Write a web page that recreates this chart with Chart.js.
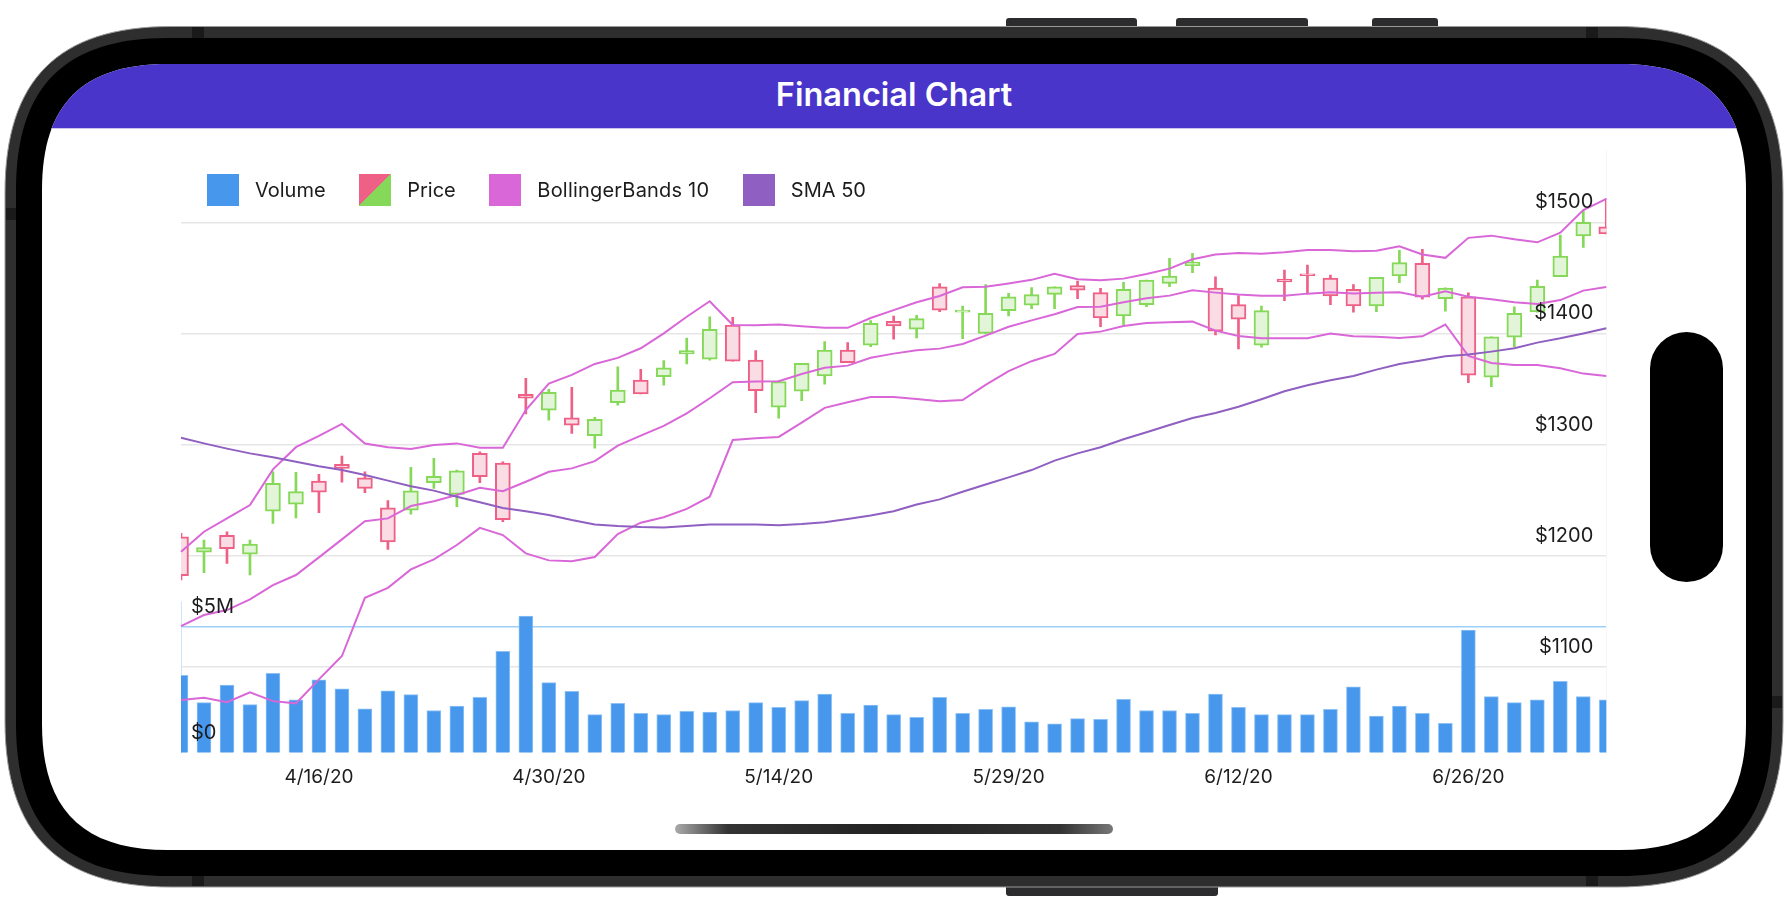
<!DOCTYPE html>
<html>
<head>
<meta charset="utf-8">
<title>Financial Chart</title>
<script src="https://cdn.jsdelivr.net/npm/chart.js@4"></script>
<style>
  html, body { margin: 0; width: 1788px; height: 910px; background: #fff; overflow: hidden; font-family: Inter, "Noto Sans", sans-serif; }
  div, svg { position: absolute; box-sizing: border-box; }
  .button { background: #2c2c2e; border-radius: 3px; }
  .band { background: #1a1a1a; }
  #device { left: 0; top: 0; }
  #title { left: 42px; top: 64px; width: 1704px; height: 64px; color: #fff; font-size: 32.5px; font-weight: 600; line-height: 62px; text-align: center; }
  #island { left: 1650px; top: 332px; width: 73px; height: 250px; background: #000; border-radius: 37px; }
  #home { left: 675px; top: 824px; width: 438px; height: 10px; border-radius: 5px; background: linear-gradient(90deg, #aaa, #333 12%, #222 50%, #333 88%, #777); }
  #chart-box { left: 170px; top: 130px; width: 1450px; height: 680px; }
  #legend { left: 207px; top: 174px; display: flex; gap: 33.6px; }
  #legend span.item { display: flex; align-items: center; gap: 16px; font-size: 20px; color: #1c1c1e; height: 32px; }
  #legend span.item:nth-child(3) { letter-spacing: 0.2px; }
  #legend span.swatch { display: block; width: 32px; height: 32px; }
</style>
</head>
<body>
<div class="button" style="left:1006px;top:18px;width:131px;height:12px"></div>
<div class="button" style="left:1176px;top:18px;width:132px;height:12px"></div>
<div class="button" style="left:1372px;top:18px;width:66px;height:12px"></div>
<div class="button" style="left:1006px;top:884px;width:212px;height:12px"></div>
<svg id="device" width="1788" height="910">
  <defs><clipPath id="screen-clip"><path id="screen-shape"></path></clipPath></defs>
  <path id="bezel" fill="#2e2e2e" stroke="#9a9a9a" stroke-width="1"></path>
  <path id="frame" fill="#000"></path>
  <path id="screen" fill="#fff"></path>
  <g clip-path="url(#screen-clip)">
    <rect x="42" y="64" width="1704" height="64" fill="#4935ca"></rect>
    <rect x="42" y="128" width="1704" height="1" fill="#c9c5ee"></rect>
  </g>
</svg>
<div class="band" style="left:192px;top:27px;width:12px;height:11px"></div>
<div class="band" style="left:1586px;top:27px;width:12px;height:11px"></div>
<div class="band" style="left:192px;top:876px;width:12px;height:10px"></div>
<div class="band" style="left:1586px;top:876px;width:12px;height:10px"></div>
<div class="band" style="left:6px;top:208px;width:10px;height:12px"></div>
<div class="band" style="left:1772px;top:696px;width:10px;height:12px"></div>
<div id="title">Financial Chart</div>
<div id="island"></div>
<div id="home"></div>
<div id="chart-box"><canvas id="financial-chart" width="1450" height="680"></canvas></div>
<div id="legend"></div>

<script>
// trading days on the x axis
const dateLabels = [
  "4/7/20", "4/8/20", "4/9/20", "4/13/20", "4/14/20", "4/15/20", "4/16/20", "4/17/20", "4/20/20", "4/21/20",
  "4/22/20", "4/23/20", "4/24/20", "4/27/20", "4/28/20", "4/29/20", "4/30/20", "5/1/20", "5/4/20", "5/5/20",
  "5/6/20", "5/7/20", "5/8/20", "5/11/20", "5/12/20", "5/13/20", "5/14/20", "5/15/20", "5/18/20", "5/19/20",
  "5/20/20", "5/21/20", "5/22/20", "5/26/20", "5/27/20", "5/28/20", "5/29/20", "6/1/20", "6/2/20", "6/3/20",
  "6/4/20", "6/5/20", "6/8/20", "6/9/20", "6/10/20", "6/11/20", "6/12/20", "6/15/20", "6/16/20", "6/17/20",
  "6/18/20", "6/19/20", "6/22/20", "6/23/20", "6/24/20", "6/25/20", "6/26/20", "6/29/20", "6/30/20", "7/1/20",
  "7/2/20", "7/6/20", "7/7/20",
];
const dateTicks = ["4/16/20", "4/30/20", "5/14/20", "5/29/20", "6/12/20", "6/26/20"];
const priceTicks = [1100, 1200, 1300, 1400, 1500];
const volumeTicks = [0, 5000000];

// candles
const openValues = [
  1217, 1203, 1218.3, 1201.2, 1239.9, 1246.4, 1267.1, 1282.1, 1270, 1242.9,
  1241, 1265.6, 1255.1, 1292, 1283.3, 1345.2, 1331, 1323.9, 1308, 1337.7,
  1358, 1361, 1381.5, 1376.7, 1407.6, 1376, 1333.5, 1347.9, 1361.7, 1385,
  1389.3, 1410.9, 1403.7, 1442, 1419.1, 1400, 1420.5, 1425.3, 1435.2, 1443,
  1436.7, 1415.7, 1425.9, 1445, 1461, 1440.9, 1425.9, 1389.3, 1449, 1453.7,
  1449.9, 1439.7, 1424.7, 1451.7, 1463, 1431.3, 1433, 1360.5, 1396.5, 1419.3,
  1451, 1487.7, 1496,
];
const closeValues = [
  1182, 1207.2, 1206.2, 1210.4, 1265, 1257.6, 1257.2, 1278.5, 1260.5, 1212.3,
  1258.4, 1271.4, 1276.4, 1271, 1232.3, 1341.6, 1347, 1317.3, 1322.7, 1349,
  1345.5, 1368.9, 1384.5, 1403.7, 1374.9, 1348.5, 1356.6, 1373, 1385, 1373.7,
  1409, 1406.7, 1413.3, 1421, 1420.9, 1418, 1433, 1434.9, 1442, 1439,
  1413.9, 1439.7, 1448, 1451.7, 1464.3, 1401.9, 1412.7, 1420.5, 1446.3, 1451.9,
  1433.7, 1424.7, 1450.5, 1463.7, 1432.5, 1440.9, 1362.3, 1397, 1418, 1442.4,
  1469.7, 1500, 1489.5,
];
const highValues = [
  1220, 1214, 1221.5, 1214, 1275.5, 1275, 1273.1, 1289.6, 1275.5, 1249.5,
  1279.4, 1287.5, 1277, 1293.5, 1284.5, 1359.6, 1349.7, 1351.5, 1324.5, 1370,
  1367.7, 1375.5, 1395.9, 1415, 1414.5, 1384.5, 1357.5, 1373, 1392.6, 1391.7,
  1411.5, 1415.7, 1416.3, 1444.8, 1424.7, 1443.9, 1436, 1441.2, 1442, 1447,
  1440.6, 1446, 1448, 1467.6, 1472, 1451, 1434, 1424.7, 1457, 1461.6,
  1452.6, 1444, 1450.5, 1474.8, 1475.7, 1441, 1436.5, 1397, 1424, 1448,
  1488.6, 1510.5, 1521.6,
];
const lowValues = [
  1178, 1184.6, 1193, 1182.5, 1229, 1234, 1238.7, 1266, 1256.7, 1205.6,
  1237.4, 1260.5, 1244, 1265.7, 1230.5, 1327.5, 1322, 1310, 1296.6, 1335.3,
  1345.5, 1353.3, 1372.5, 1376, 1374.9, 1328.7, 1323.6, 1339.5, 1354.2, 1373.7,
  1388, 1394.7, 1395.9, 1419.6, 1395.3, 1399.5, 1415.7, 1422.3, 1422.3, 1431.3,
  1406, 1407.3, 1424, 1442, 1454.7, 1398.6, 1386, 1387.5, 1429.5, 1435.5,
  1425.9, 1419, 1419.6, 1445.7, 1430.7, 1420, 1355.7, 1352, 1388, 1419,
  1451, 1477.5, 1489.5,
];
const volumeValues = [
  3080000, 2000000, 2690000, 1920000, 3160000, 2110000, 2900000, 2550000, 1760000, 2470000,
  2320000, 1690000, 1870000, 2210000, 4030000, 5420000, 2790000, 2450000, 1530000, 1970000,
  1580000, 1530000, 1660000, 1630000, 1690000, 2000000, 1820000, 2080000, 2340000, 1580000,
  1900000, 1530000, 1420000, 2210000, 1580000, 1740000, 1840000, 1240000, 1160000, 1370000,
  1340000, 2130000, 1690000, 1690000, 1580000, 2340000, 1820000, 1530000, 1530000, 1530000,
  1740000, 2630000, 1470000, 1870000, 1580000, 1180000, 4870000, 2240000, 2000000, 2110000,
  2840000, 2240000, 2110000,
];

// overlays
const bollingerUpper = [
  1203.5, 1221.5, 1233.5, 1245.5, 1277.6, 1297.6, 1307.7, 1318.5, 1300.8, 1297.5,
  1296, 1299.6, 1301, 1297, 1297, 1331, 1354.8, 1362.6, 1372.5, 1378,
  1386.6, 1400, 1415, 1428.9, 1407.6, 1407.3, 1408, 1406.4, 1405, 1405,
  1413.9, 1421, 1428, 1433.7, 1441.5, 1442, 1445, 1448.2, 1453.7, 1448.7,
  1447.8, 1449.3, 1453.5, 1458.3, 1466.7, 1471, 1472.4, 1471.8, 1473, 1475,
  1475, 1473.9, 1474.5, 1478.4, 1471, 1468, 1486, 1488, 1484.7, 1482,
  1490.7, 1511, 1521,
];
const bollingerMiddle = [
  1136.6, 1146.5, 1151, 1160.6, 1173.5, 1182.5, 1198.4, 1214.6, 1231, 1233.5,
  1244.6, 1249, 1254.5, 1261, 1258, 1266.5, 1275.5, 1278.5, 1285, 1299,
  1308, 1316.7, 1328, 1341.6, 1356, 1356.6, 1356.9, 1363.5, 1369, 1371,
  1378, 1381.8, 1384.8, 1386.3, 1390.5, 1398, 1406, 1411.7, 1417.3, 1423.8,
  1424, 1428, 1431.6, 1434, 1438.8, 1436.7, 1435, 1434, 1434, 1435.8,
  1437, 1436, 1436.7, 1437, 1433, 1438, 1433, 1430.7, 1428, 1426.5,
  1430, 1438.5, 1441.8,
];
const bollingerLower = [
  1070, 1072, 1068, 1077, 1069, 1067, 1088.6, 1109.6, 1162, 1171,
  1187.6, 1196.6, 1209.5, 1225, 1218.5, 1202, 1195.7, 1195, 1198.7, 1219.4,
  1229.6, 1234.5, 1242, 1253, 1304, 1305.6, 1306.8, 1319.7, 1333, 1338,
  1342.8, 1342.8, 1341, 1338.9, 1340, 1353.6, 1366, 1375, 1381.5, 1399.5,
  1401.6, 1406.7, 1409.4, 1410, 1410.6, 1402.5, 1397.7, 1395.6, 1395.6, 1395.6,
  1399.8, 1397.4, 1397, 1395.9, 1397.4, 1408, 1379.8, 1373.4, 1371.6, 1371.6,
  1368.6, 1363.8, 1361.7,
];
const sma50Values = [
  1306, 1301, 1296.3, 1292, 1288.5, 1284.5, 1280.5, 1277, 1272.5, 1267.5,
  1262.4, 1258.5, 1253, 1248, 1242.8, 1240, 1236.5, 1232, 1228, 1226.6,
  1225.7, 1225.4, 1226.6, 1227.9, 1228, 1228, 1227.3, 1228.4, 1230, 1233,
  1236, 1239.9, 1246, 1250.6, 1257.5, 1264, 1270.4, 1277, 1285.5, 1292,
  1297.5, 1304.7, 1311, 1317.6, 1323.9, 1328.4, 1334, 1340.7, 1347.9, 1353.3,
  1357.8, 1361.7, 1367.4, 1372.5, 1375.8, 1379.5, 1381, 1383.6, 1386.6, 1391.7,
  1395.6, 1400, 1404.6,
];

const legendNames = ["Volume", "Price", "BollingerBands 10", "SMA 50"];

// colours
const blue = "#4797ec";
const blueEdge = "#8cc2f6";
const red = "#ee6086";
const redFill = "#fadce5";
const green = "#86d858";
const greenFill = "#e2f5d8";
const pink = "#d967d8";
const purple = "#8f5fc1";

// phone outline, corners are tighter than a plain circle
function roundedShape(left, top, right, bottom, r) {
  const k = r * 0.32;
  return `M${left + r} ${top} H${right - r} C${right - k} ${top} ${right} ${top + k} ${right} ${top + r} ` +
    `V${bottom - r} C${right} ${bottom - k} ${right - k} ${bottom} ${right - r} ${bottom} ` +
    `H${left + r} C${left + k} ${bottom} ${left} ${bottom - k} ${left} ${bottom - r} ` +
    `V${top + r} C${left} ${top + k} ${left + k} ${top} ${left + r} ${top} Z`;
}
document.getElementById("bezel").setAttribute("d", roundedShape(5, 26.5, 1783, 887, 166));
document.getElementById("frame").setAttribute("d", roundedShape(16, 38, 1772, 876, 152));
document.getElementById("screen").setAttribute("d", roundedShape(42, 64, 1746, 850, 126));
document.getElementById("screen-shape").setAttribute("d", roundedShape(42, 64, 1746, 850, 126));

// legend swatches
const legendSwatches = [blue, `linear-gradient(135deg, ${red} 50%, ${green} 50%)`, pink, purple];
const legend = document.getElementById("legend");
for (let i = 0; i < legendNames.length; i++) {
  const item = document.createElement("span");
  item.className = "item";
  const swatch = document.createElement("span");
  swatch.className = "swatch";
  swatch.style.background = legendSwatches[i];
  item.appendChild(swatch);
  item.appendChild(document.createTextNode(legendNames[i]));
  legend.appendChild(item);
}

// build bar data for candles
const wickData = [];
const bodyData = [];
const edgeColours = [];
const fillColours = [];
for (let i = 0; i < dateLabels.length; i++) {
  wickData.push([lowValues[i], highValues[i]]);
  bodyData.push([openValues[i], closeValues[i]]);
  const up = closeValues[i] >= openValues[i];
  edgeColours.push(up ? green : red);
  fillColours.push(up ? greenFill : redFill);
}

function lineSet(label, data, colour, order) {
  return {
    type: "line",
    label: label,
    data: data,
    yAxisID: "y",
    borderColor: colour,
    borderWidth: 2,
    pointRadius: 0,
    tension: 0,
    fill: false,
    order: order,
  };
}

// short axis line next to the volume labels
const volumeAxisLine = {
  id: "volumeAxisLine",
  beforeDatasetsDraw(chart) {
    const scale = chart.scales.yVolume;
    const c = chart.ctx;
    c.save();
    c.strokeStyle = "#cfe4fb";
    c.lineWidth = 1;
    c.beginPath();
    c.moveTo(chart.chartArea.left + 0.5, scale.getPixelForValue(6000000));
    c.lineTo(chart.chartArea.left + 0.5, scale.getPixelForValue(0));
    c.stroke();
    c.restore();
  },
};

// the axes must not push the plot area around
function noScalePadding(scale) {
  scale.paddingTop = 0;
  scale.paddingBottom = 0;
  scale.paddingLeft = 0;
  scale.paddingRight = 0;
}

const tickFont = { family: "Inter", size: 20 };
const tickColour = "#1c1c1e";

new Chart(document.getElementById("financial-chart"), {
  type: "bar",
  data: {
    labels: dateLabels,
    datasets: [
      { label: "Volume", data: volumeValues, yAxisID: "yVolume", grouped: false, barThickness: 14, backgroundColor: blue, borderColor: blueEdge, borderWidth: 1, borderSkipped: "bottom", order: 5 },
      { label: "Price wick", data: wickData, yAxisID: "y", grouped: false, barThickness: 2, backgroundColor: edgeColours, borderWidth: 0, order: 4 },
      { label: "Price", data: bodyData, yAxisID: "y", grouped: false, barThickness: 15, backgroundColor: fillColours, borderColor: edgeColours, borderWidth: 2, borderSkipped: false, order: 3 },
      lineSet("BollingerBands upper", bollingerUpper, pink, 2),
      lineSet("BollingerBands middle", bollingerMiddle, pink, 2),
      lineSet("BollingerBands lower", bollingerLower, pink, 2),
      lineSet("SMA 50", sma50Values, purple, 1),
    ],
  },
  options: {
    responsive: false,
    animation: false,
    layout: { padding: { left: 11, right: 13.7, top: 20, bottom: 0 } },
    plugins: { legend: { display: false }, tooltip: { enabled: false } },
    scales: {
      x: {
        offset: false,
        border: { display: false },
        grid: { display: false, drawTicks: false },
        afterFit(scale) { scale.height = 56.7; noScalePadding(scale); },
        ticks: {
          autoSkip: false,
          maxRotation: 0,
          padding: 13,
          color: tickColour,
          font: { family: "Inter", size: 19 },
          callback(value) {
            const label = this.getLabelForValue(value);
            return dateTicks.includes(label) ? label : "";
          },
        },
      },
      y: {
        position: "right",
        min: 1022.05,
        max: 1565.08,
        afterFit(scale) { scale.width = 0; noScalePadding(scale); },
        afterBuildTicks(scale) { scale.ticks = priceTicks.map((v) => ({ value: v })); },
        border: { display: true, color: "#f6f6f6", width: 1 },
        grid: { color: "#e6e6e6", lineWidth: 1.5, drawTicks: false },
        ticks: {
          mirror: true,
          padding: -13,
          labelOffset: -20,
          z: 1,
          color: tickColour,
          font: tickFont,
          callback: (v) => "$" + v,
        },
      },
      yVolume: {
        position: "left",
        min: 0,
        max: 23830000,
        afterFit(scale) { scale.width = 0; noScalePadding(scale); },
        afterBuildTicks(scale) { scale.ticks = volumeTicks.map((v) => ({ value: v })); },
        border: { display: false },
        grid: {
          drawTicks: false,
          lineWidth: 1.5,
          color: (c) => (c.tick && c.tick.value > 0 ? "#9ccffa" : "transparent"),
        },
        ticks: {
          mirror: true,
          padding: 10,
          labelOffset: -20,
          z: 1,
          color: tickColour,
          font: tickFont,
          callback: (v) => (v === 0 ? "$0" : "$" + v / 1000000 + "M"),
        },
      },
    },
  },
  plugins: [volumeAxisLine],
});
</script>
</body>
</html>
